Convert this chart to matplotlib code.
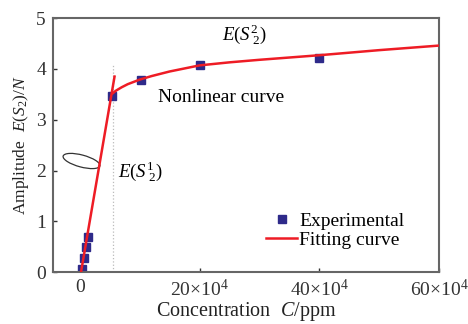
import matplotlib
matplotlib.use('Agg')
import matplotlib.pyplot as plt
from matplotlib.patches import Ellipse
from matplotlib.transforms import IdentityTransform

plt.rcParams['font.family'] = ['Liberation Serif', 'DejaVu Serif']
plt.rcParams['mathtext.fontset'] = 'custom'
plt.rcParams['mathtext.rm'] = 'Liberation Serif'
plt.rcParams['mathtext.it'] = 'Liberation Serif:italic'

# experimental points (concentration in ppm, amplitude)
exp_x = [0.3e4, 0.7e4, 1.0e4, 1.3e4, 5.4e4, 10.3e4, 20e4, 40e4]
exp_y = [0.06, 0.27, 0.49, 0.69, 3.47, 3.78, 4.08, 4.22]

# linear fitting segment
lin_x = [0.2e4, 5.8e4]
lin_y = [0.0, 3.85]

# nonlinear fitting curve
fit_x = [5.5e4, 6e4, 7e4, 8e4, 10e4, 12e4, 15e4, 20e4, 25e4, 30e4, 40e4, 50e4, 60e4]
fit_y = [3.52, 3.57, 3.64, 3.70, 3.79, 3.86, 3.95, 4.07, 4.13, 4.18, 4.27, 4.37, 4.46]

xticks = [0, 20e4, 40e4, 60e4]
xticklabels = ['0', r'$\mathrm{20{\times}10^{4}}$', r'$\mathrm{40{\times}10^{4}}$', r'$\mathrm{60{\times}10^{4}}$']
yticks = [0, 1, 2, 3, 4, 5]

red = '#ee1c25'
navy = '#2e2a8a'

fig = plt.figure(figsize=(4.68, 3.24), dpi=100)
ax = fig.add_subplot(111)
fig.subplots_adjust(left=0.113, right=0.938, top=0.944, bottom=0.160)

ax.plot([5.5e4, 5.5e4], [0, 4.1], color='#bbbbbb', lw=0.9, ls=':')
ax.plot(lin_x, lin_y, color=red, lw=1.8, zorder=3)
ax.plot(fit_x, fit_y, color=red, lw=1.8, zorder=3, label='Fitting curve')
ax.plot(exp_x, exp_y, ls='none', marker='s', ms=6, color=navy, zorder=2, label='Experimental')

ax.set_xlim(-4.5e4, 60e4)
ax.set_ylim(0, 5)
ax.set_xticks(xticks)
ax.set_xticklabels(xticklabels)
ax.set_yticks(yticks)
ax.tick_params(direction='in', length=3, width=1, labelsize=14, colors='#333333', pad=5)
for s in ax.spines.values():
    s.set_color('#666666')
    s.set_linewidth(1.5)

ax.set_xlabel(r'Concentration  $C$/ppm', fontsize=14.5, labelpad=0, color='#222222')
ax.set_ylabel(r'Amplitude  $E(S_2)/N$', fontsize=12.5, labelpad=4, color='#222222')

ax.text(27.5e4, 4.67, r'$E(S^{2}_{\ 2})$', fontsize=13.5, ha='center', va='center')
ax.text(13e4, 3.43, 'Nonlinear curve', fontsize=14, ha='left', va='center')
ax.text(6.3e4, 1.98, r'$E(S^{1}_{\ 2})$', fontsize=13.5, ha='left', va='center')

handles, labels = ax.get_legend_handles_labels()
ax.legend(handles[::-1], labels[::-1], loc='lower right', bbox_to_anchor=(0.93, 0.06),
          frameon=False, fontsize=14, handlelength=1.6, handletextpad=0.1,
          labelspacing=0.1, borderaxespad=0)

# ellipse marking the linear part
fig.canvas.draw()
ax.add_patch(Ellipse((81.5, 324 - 161), 38, 12, angle=-15, fill=False,
                     edgecolor='#333333', lw=0.9, transform=IdentityTransform(), clip_on=False))

fig.savefig('out.png', dpi=100)
